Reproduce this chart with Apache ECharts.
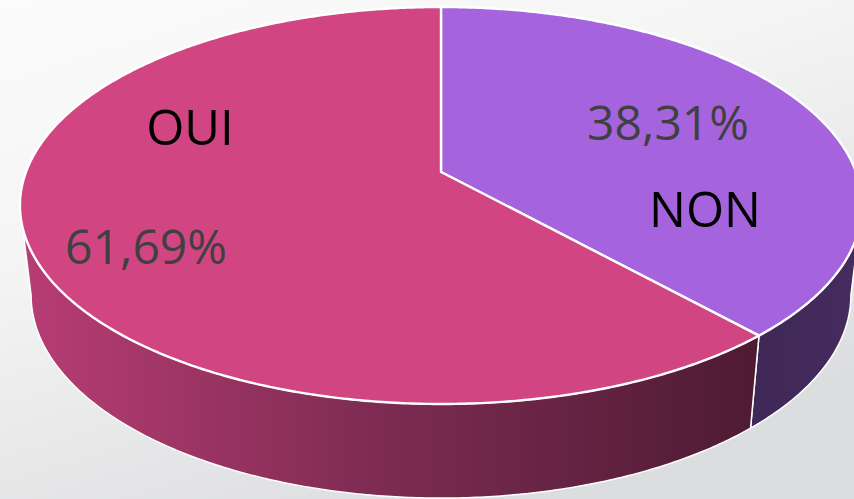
<!DOCTYPE html>
<html>
<head>
<meta charset="utf-8">
<style>
html,body{margin:0;padding:0;background:#fff;overflow:hidden}
#chart{width:854px;height:499px}
</style>
<script src="https://cdn.jsdelivr.net/npm/echarts@6/dist/echarts.min.js"></script>
</head>
<body>
<div id="chart"></div>
<script>
var categories = ['NON', 'OUI'];
var values = [38.31, 61.69];
var topColors = ['#a564de', '#d14682'];

// View of the tilted disc (layout only)
var view = {
  cx: 441, c: -0.1688,
  top: {A: 415, a: 163.8, b: 172},
  low: {A: 404, a: 153, b: 261}
};
var sideFills = [
  [{offset: 0, color: '#3f2857'}, {offset: 1, color: '#452b5e'}],
  [{offset: 0, color: '#b83d75'}, {offset: 0.5, color: '#7c2b52'}, {offset: 1, color: '#4f1b33'}]
];
var nameLabelAt = [[705, 208], [190, 126]];
var percentLabelAt = [[668, 121], [146, 245]];

function project(deg, plane) {
  var t = deg * Math.PI / 180, u = Math.sin(t), v = -Math.cos(t), w = 1 + view.c * v;
  return [view.cx + plane.A * u / w, (plane.a * v + plane.b) / w];
}
function arc(from, to, plane) {
  var pts = [], n = Math.max(2, Math.ceil(Math.abs(to - from) * 2));
  for (var i = 0; i <= n; i++) pts.push(project(from + (to - from) * i / n, plane));
  return pts;
}
var total = values.reduce(function (s, x) { return s + x; }, 0);
var limitR = Math.acos(view.c) * 180 / Math.PI;   // widest point of the rim, right
var limitL = 360 - limitR;                         // widest point of the rim, left

function renderItem(params, api) {
  var i = params.dataIndex, start = 0;
  for (var k = 0; k < i; k++) start += values[k] / total * 360;
  var end = start + api.value(1) / total * 360;
  var sideFrom = Math.max(start, limitR), sideTo = Math.min(end, limitL);
  if (i === 0) { sideFrom = limitR; sideTo = end; }
  var side = arc(sideFrom, sideTo, view.top).concat(arc(sideTo, sideFrom, view.low));
  var top = [[view.cx, view.top.b]].concat(arc(start, end, view.top));
  var fill = new echarts.graphic.LinearGradient(22, 0, 752, 0, sideFills[i], true);
  if (i === 0) fill = new echarts.graphic.LinearGradient(752, 0, 852, 0, sideFills[i], true);
  var pct = api.value(1).toFixed(2).replace('.', ',') + '%';
  return {
    type: 'group',
    children: [
      {type: 'polygon', z2: 1, shape: {points: side},
        style: {fill: fill, stroke: '#ffffff', lineWidth: 1.5, lineJoin: 'round'}},
      {type: 'polygon', z2: 2, shape: {points: top},
        style: {fill: topColors[i], stroke: '#ffffff', lineWidth: 2.4, lineJoin: 'round'}},
      {type: 'text', z2: 5, x: nameLabelAt[i][0], y: nameLabelAt[i][1],
        style: {text: categories[i], fill: '#000000', font: '49px "Open Sans"', align: 'center', verticalAlign: 'middle'}},
      {type: 'text', z2: 5, x: percentLabelAt[i][0], y: percentLabelAt[i][1],
        style: {text: pct, fill: '#404040', font: '48px "Open Sans"', align: 'center', verticalAlign: 'middle'}}
    ]
  };
}

var chart = echarts.init(document.getElementById('chart'), null, {renderer: 'svg', width: 854, height: 499});
chart.setOption({
  animation: false,
  backgroundColor: new echarts.graphic.LinearGradient(0, 0, 0.55, 1, [
    {offset: 0, color: '#fbfbfb'},
    {offset: 0.4, color: '#f5f5f5'},
    {offset: 1, color: '#dcdddf'}
  ]),
  series: [{
    type: 'custom',
    coordinateSystem: 'none',
    silent: true,
    clip: false,
    renderItem: renderItem,
    data: categories.map(function (c, i) { return [c, values[i]]; })
  }]
});
</script>
</body>
</html>
